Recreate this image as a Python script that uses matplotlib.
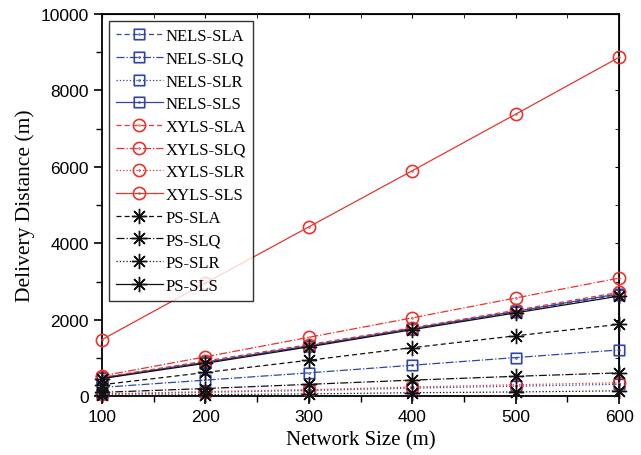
import numpy as np
import matplotlib
matplotlib.use("Agg")
import matplotlib.pyplot as plt
from matplotlib.path import Path

x = [100, 200, 300, 400, 500, 600]

nels_sla = [470, 880, 1310, 1760, 2210, 2660]
nels_slq = [230, 420, 610, 810, 1010, 1210]
nels_slr = [50, 100, 150, 210, 260, 310]
nels_sls = [480, 890, 1320, 1770, 2220, 2680]

xyls_sla = [490, 920, 1350, 1790, 2250, 2720]
xyls_slq = [530, 1030, 1540, 2050, 2570, 3090]
xyls_slr = [60, 120, 170, 240, 300, 350]
xyls_sls = [1480, 2960, 4430, 5900, 7380, 8870]

ps_sla = [300, 620, 940, 1270, 1580, 1880]
ps_slq = [100, 200, 310, 420, 520, 610]
ps_slr = [20, 40, 60, 90, 110, 140]
ps_sls = [460, 860, 1290, 1740, 2180, 2620]

labels = ["NELS-SLA", "NELS-SLQ", "NELS-SLR", "NELS-SLS",
          "XYLS-SLA", "XYLS-SLQ", "XYLS-SLR", "XYLS-SLS",
          "PS-SLA", "PS-SLQ", "PS-SLR", "PS-SLS"]
series = [nels_sla, nels_slq, nels_slr, nels_sls,
          xyls_sla, xyls_slq, xyls_slr, xyls_sls,
          ps_sla, ps_slq, ps_slr, ps_sls]

blue = "#2f45a8"
red = "#e8352e"
black = "#111111"

sq = Path.unit_rectangle()
sq = Path(sq.vertices - 0.5, sq.codes)
sq_dot = Path.make_compound_path(sq, Path.circle((0, 0), 0.04))
circ = Path.unit_circle()
circ = Path(circ.vertices * 0.5, circ.codes)
circ_dot = Path.make_compound_path(circ, Path.circle((0, 0), 0.03))
star = (8, 2, 0)

styles = [(0, (4, 2.5)), "-.", ":", "-"]
fig = plt.figure(figsize=(6.41, 4.56), dpi=100)
ax = fig.add_axes([0.159, 0.129, 0.807, 0.838])

for i, (lab, y) in enumerate(zip(labels, series)):
    grp = i // 4
    ls = styles[i % 4]
    if grp == 0:
        c, m, ms, mew = blue, sq_dot, 7.5, 1.2
    elif grp == 1:
        c, m, ms, mew = red, circ_dot, 8.8, 1.2
    else:
        c, m, ms, mew = black, star, 11, 1.0
    ax.plot(x, y, linestyle=ls, color=c, marker=m, markersize=ms,
            markerfacecolor="none", markeredgecolor=c, markeredgewidth=mew,
            linewidth=0.9, label=lab, clip_on=False, zorder=3)

ax.set_xlim(100, 600)
ax.set_ylim(0, 10000)
ax.set_xticks([100, 200, 300, 400, 500, 600])
ax.set_xticks([150, 250, 350, 450, 550], minor=True)
ax.set_yticks([0, 2000, 4000, 6000, 8000, 10000])
ax.set_yticks([1000, 3000, 5000, 7000, 9000], minor=True)

ax.tick_params(axis="both", which="major", direction="out", length=6, width=1.2,
               labelsize=12.5, top=False, right=False)
ax.tick_params(axis="both", which="minor", direction="out", length=4, width=1.0,
               top=False, right=False)
for lbl in ax.get_xticklabels() + ax.get_yticklabels():
    lbl.set_fontfamily("Liberation Sans")

sy = ax.secondary_yaxis("right")
sy.set_yticks([0, 2000, 4000, 6000, 8000, 10000])
sy.set_yticks([1000, 3000, 5000, 7000, 9000], minor=True)
sy.tick_params(which="both", direction="in", length=3, labelright=False)
sx = ax.secondary_xaxis("top")
sx.set_xticks([100, 200, 300, 400, 500, 600])
sx.set_xticks([150, 250, 350, 450, 550], minor=True)
sx.tick_params(which="both", direction="in", length=3, labeltop=False)

for sp in ax.spines.values():
    sp.set_linewidth(1.3)

ax.set_xlabel("Network Size (m)", fontfamily="Liberation Serif", fontsize=15)
ax.set_ylabel("Delivery Distance (m)", fontfamily="Liberation Serif", fontsize=15.5)

leg = ax.legend(loc="upper left", bbox_to_anchor=(0.0, 1.0), ncol=1,
                prop={"family": "Liberation Serif", "size": 12},
                frameon=True, fancybox=False, edgecolor="black",
                handlelength=2.8, handletextpad=0.15, labelspacing=0.4,
                borderpad=0.45, borderaxespad=0.4)
leg.get_frame().set_linewidth(1.0)
leg.set_zorder(5)

fig.savefig("out.png", dpi=100)
